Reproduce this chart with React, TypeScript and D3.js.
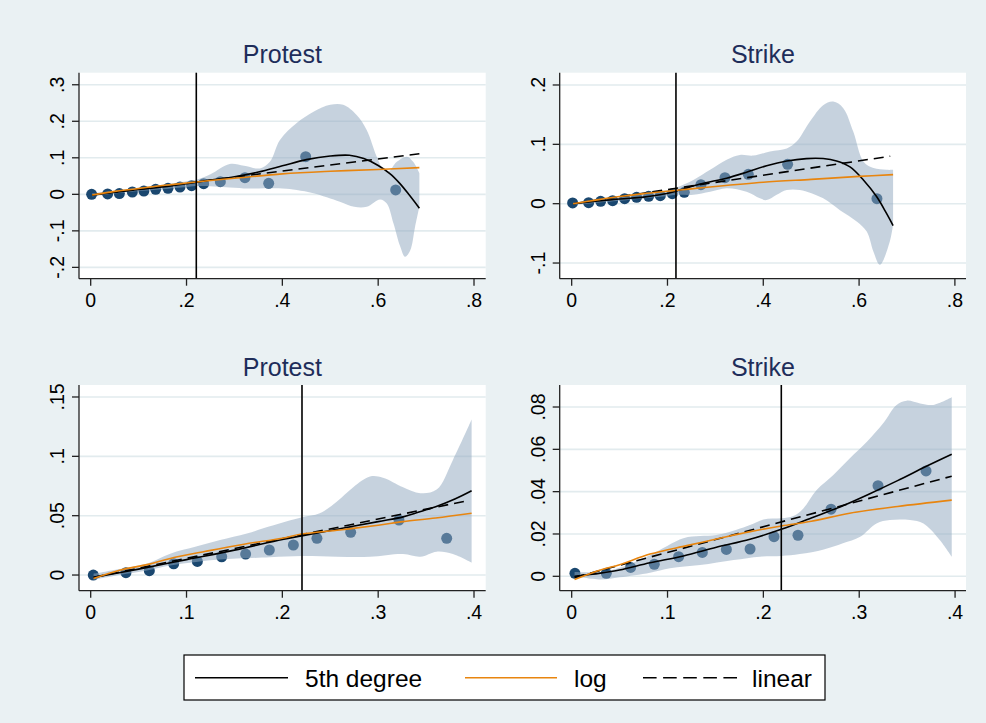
import React from 'react';
import * as d3 from 'd3';

type P = [number, number];

// ---- top row: full range of the share ----
const protestPts: P[] = [
  [0.002, 0.0], [0.0354, 0.001], [0.0598, 0.002], [0.0869, 0.0064], [0.111, 0.0091],
  [0.1356, 0.0137], [0.1613, 0.0164], [0.1864, 0.02], [0.2107, 0.0237], [0.2358, 0.0292],
  [0.2706, 0.0347], [0.322, 0.0457], [0.3715, 0.03], [0.4487, 0.103], [0.6365, 0.0119],
];
const protestPoly5: P[] = [
  [0.003, -0.002], [0.05, 0.006], [0.1, 0.013], [0.15, 0.02], [0.2, 0.029], [0.25, 0.039],
  [0.3, 0.048], [0.35, 0.061], [0.4, 0.078], [0.45, 0.095], [0.5, 0.105], [0.54, 0.107],
  [0.57, 0.098], [0.6, 0.079], [0.625, 0.056], [0.645, 0.03], [0.665, -0.002], [0.686, -0.038],
];
const protestLog: P[] = [
  [0.003, -0.002], [0.05, 0.008], [0.1, 0.016], [0.15, 0.024], [0.2, 0.031], [0.25, 0.038],
  [0.3, 0.044], [0.4, 0.056], [0.5, 0.063], [0.6, 0.068], [0.686, 0.073],
];
const protestLinear: P[] = [[0.003, -0.002], [0.686, 0.111]];
const protestCiUpper: P[] = [
  [0.003, 0.003], [0.05, 0.01], [0.1, 0.018], [0.15, 0.026], [0.2, 0.036], [0.22, 0.04],
  [0.25, 0.055], [0.29, 0.083], [0.32, 0.078], [0.353, 0.071], [0.374, 0.089], [0.395, 0.149],
  [0.43, 0.195], [0.465, 0.226], [0.5, 0.245], [0.527, 0.245], [0.555, 0.217], [0.576, 0.176],
  [0.597, 0.103], [0.611, 0.067], [0.621, 0.062], [0.639, 0.089], [0.66, 0.103], [0.673, 0.089],
  [0.686, 0.058],
];
const protestCiLower: P[] = [
  [0.003, -0.006], [0.05, 0.002], [0.1, 0.009], [0.15, 0.014], [0.2, 0.02], [0.22, 0.023],
  [0.29, 0.019], [0.33, 0.016], [0.4, 0.016], [0.43, 0.012], [0.465, 0.003], [0.52, -0.02],
  [0.55, -0.034], [0.576, -0.034], [0.604, -0.014], [0.618, -0.025], [0.632, -0.08],
  [0.646, -0.143], [0.656, -0.171], [0.667, -0.153], [0.677, -0.089], [0.686, -0.034],
];

const strikePts: P[] = [
  [0.002, 0.0012], [0.0354, 0.0017], [0.0605, 0.004], [0.0855, 0.0051], [0.1106, 0.0085],
  [0.1356, 0.0107], [0.1607, 0.0124], [0.185, 0.0135], [0.21, 0.0169], [0.2351, 0.0192],
  [0.2699, 0.0321], [0.32, 0.0439], [0.3687, 0.0495], [0.4508, 0.0663], [0.6373, 0.0085],
];
const strikePoly5: P[] = [
  [0.003, 0.0], [0.05, 0.004], [0.1, 0.008], [0.15, 0.011], [0.184, 0.015], [0.218, 0.021],
  [0.268, 0.033], [0.3235, 0.043], [0.365, 0.053], [0.407, 0.064], [0.449, 0.072], [0.49, 0.076],
  [0.525, 0.076], [0.553, 0.072], [0.581, 0.062], [0.609, 0.04], [0.6365, 0.012], [0.657, -0.016],
  [0.671, -0.037],
];
const strikeLog: P[] = [
  [0.003, 0.0], [0.05, 0.006], [0.1, 0.012], [0.15, 0.017], [0.2, 0.021], [0.25, 0.025],
  [0.3, 0.029], [0.4, 0.036], [0.5, 0.041], [0.6, 0.046], [0.671, 0.049],
];
const strikeLinear: P[] = [[0.003, 0.0], [0.665, 0.08]];
const strikeCiUpper: P[] = [
  [0.003, 0.002], [0.1, 0.011], [0.2, 0.023], [0.218, 0.027], [0.254, 0.04], [0.289, 0.057],
  [0.3235, 0.074], [0.351, 0.082], [0.379, 0.081], [0.414, 0.088], [0.449, 0.093], [0.47, 0.105],
  [0.497, 0.138], [0.525, 0.166], [0.546, 0.172], [0.567, 0.161], [0.588, 0.121], [0.609, 0.071],
  [0.63, 0.06], [0.657, 0.057], [0.671, 0.057],
];
const strikeCiLower: P[] = [
  [0.003, -0.002], [0.1, 0.005], [0.2, 0.013], [0.218, 0.015], [0.254, 0.015], [0.289, 0.02],
  [0.3235, 0.026], [0.365, 0.02], [0.393, 0.009], [0.407, 0.006], [0.428, 0.015], [0.449, 0.023],
  [0.4765, 0.023], [0.525, 0.009], [0.56, -0.011], [0.595, -0.03], [0.616, -0.047], [0.63, -0.081],
  [0.6435, -0.103], [0.664, -0.064], [0.671, -0.035],
];

// ---- bottom row: share below .4 ----
const protestLowPts: P[] = [
  [0.0027, 0.0], [0.0368, 0.002], [0.0612, 0.0037], [0.0866, 0.0095], [0.1113, 0.0115],
  [0.1367, 0.0154], [0.1617, 0.0177], [0.1864, 0.0211], [0.2115, 0.0253], [0.2361, 0.0309],
  [0.2713, 0.036], [0.3217, 0.0463], [0.3715, 0.0309],
];
const protestLowPoly5: P[] = [
  [0.003, -0.002], [0.05, 0.005], [0.1, 0.013], [0.15, 0.021], [0.2, 0.03], [0.22, 0.033],
  [0.26, 0.039], [0.3, 0.045], [0.326, 0.049], [0.34, 0.0525], [0.36, 0.0575], [0.38, 0.064],
  [0.3975, 0.071],
];
const protestLowLog: P[] = [
  [0.003, -0.003], [0.03, 0.004], [0.06, 0.009], [0.083, 0.014], [0.12, 0.02], [0.16, 0.026],
  [0.2, 0.031], [0.22, 0.0345], [0.26, 0.038], [0.3, 0.042], [0.326, 0.045], [0.36, 0.048],
  [0.3975, 0.052],
];
const protestLowLinear: P[] = [[0.003, -0.002], [0.393, 0.0626]];
const protestLowCiUpper: P[] = [
  [0.003, 0.001], [0.03, 0.005], [0.06, 0.01], [0.083, 0.018], [0.11, 0.024], [0.135, 0.0295],
  [0.163, 0.035], [0.187, 0.041], [0.2205, 0.0486], [0.239, 0.052], [0.257, 0.062], [0.274, 0.074],
  [0.2915, 0.083], [0.305, 0.082], [0.326, 0.074], [0.344, 0.069], [0.361, 0.072], [0.378, 0.097],
  [0.3975, 0.131],
];
const protestLowCiLower: P[] = [
  [0.003, -0.004], [0.03, 0.0], [0.06, 0.004], [0.083, 0.008], [0.11, 0.011], [0.135, 0.013],
  [0.187, 0.015], [0.2205, 0.016], [0.257, 0.0154], [0.2915, 0.0154], [0.326, 0.0177],
  [0.344, 0.0154], [0.361, 0.0197], [0.378, 0.0177], [0.3975, 0.0104],
];

const strikeLowPts: P[] = [
  [0.0034, 0.0014], [0.0361, 0.0014], [0.0615, 0.0042], [0.0862, 0.0057], [0.1116, 0.0093],
  [0.1363, 0.0113], [0.1614, 0.0127], [0.1861, 0.0129], [0.2111, 0.0187], [0.2361, 0.0194],
  [0.2706, 0.0317], [0.3196, 0.0428], [0.3697, 0.0498],
];
const strikeLowPoly5: P[] = [
  [0.003, 0.0], [0.03, 0.0015], [0.05, 0.003], [0.0817, 0.0064], [0.1165, 0.0096], [0.151, 0.0137],
  [0.186, 0.0175], [0.2187, 0.0222], [0.25, 0.0276], [0.28, 0.0328], [0.31, 0.0388],
  [0.34, 0.0452], [0.37, 0.052], [0.3965, 0.0577],
];
const strikeLowLog: P[] = [
  [0.003, -0.0015], [0.03, 0.003], [0.05, 0.0055], [0.0817, 0.0105], [0.12, 0.0145], [0.15, 0.0175],
  [0.185, 0.021], [0.2187, 0.0238], [0.25, 0.026], [0.29, 0.0298], [0.34, 0.033], [0.3965, 0.036],
];
const strikeLowLinear: P[] = [[0.003, -0.0005], [0.3965, 0.0473]];
const strikeLowCiUpper: P[] = [
  [0.003, 0.002], [0.03, 0.002], [0.05, 0.004], [0.0817, 0.01], [0.1165, 0.018], [0.134, 0.019],
  [0.151, 0.0195], [0.172, 0.022], [0.186, 0.0242], [0.2, 0.0269], [0.2187, 0.0274], [0.2313, 0.0285],
  [0.2417, 0.0321], [0.2556, 0.0408], [0.273, 0.0479], [0.29, 0.0557], [0.308, 0.0636],
  [0.325, 0.0723], [0.339, 0.081], [0.3495, 0.083], [0.3635, 0.0817], [0.3773, 0.081], [0.3965, 0.0846],
];
const strikeLowCiLower: P[] = [
  [0.003, 0.0], [0.03, -0.0015], [0.05, -0.0005], [0.0817, 0.0017], [0.1026, 0.0038], [0.134, 0.0053],
  [0.169, 0.0077], [0.1965, 0.0093], [0.2187, 0.0096], [0.238, 0.0105], [0.263, 0.0127],
  [0.283, 0.0156], [0.301, 0.0187], [0.318, 0.025], [0.332, 0.0266], [0.353, 0.0266], [0.367, 0.025],
  [0.384, 0.0172], [0.3965, 0.0093],
];

// cutoff lines
const cutoffs = [0.2204, 0.2177, 0.2205, 0.2187];
const titles = ['Protest', 'Strike', 'Protest', 'Strike'];

// ticks
const xTicksTop = [0, 0.2, 0.4, 0.6, 0.8];
const xLabelsTop = ['0', '.2', '.4', '.6', '.8'];
const xTicksBottom = [0, 0.1, 0.2, 0.3, 0.4];
const xLabelsBottom = ['0', '.1', '.2', '.3', '.4'];
const yTicksProtest = [-0.2, -0.1, 0, 0.1, 0.2, 0.3];
const yLabelsProtest = ['-.2', '-.1', '0', '.1', '.2', '.3'];
const yTicksStrike = [-0.1, 0, 0.1, 0.2];
const yLabelsStrike = ['-.1', '0', '.1', '.2'];
const yTicksProtestLow = [0, 0.05, 0.1, 0.15];
const yLabelsProtestLow = ['0', '.05', '.1', '.15'];
const yTicksStrikeLow = [0, 0.02, 0.04, 0.06, 0.08];
const yLabelsStrikeLow = ['0', '.02', '.04', '.06', '.08'];

const legendLabels = ['5th degree', 'log', 'linear'];

const FONT = "'Liberation Sans', Arial, Helvetica, sans-serif";
const BG = '#eaf1f3';
const GRID = '#e2ebee';
const NAVY = '#1a476f';
const ORANGE = '#e8850f';
const BAND = 'rgba(145,168,192,0.52)';
const TITLE = '#1e2d5a';

const panels = [
  {
    pts: protestPts, poly: protestPoly5, log: protestLog, lin: protestLinear,
    up: protestCiUpper, lo: protestCiLower,
    xTicks: xTicksTop, xLabels: xLabelsTop, yTicks: yTicksProtest, yLabels: yLabelsProtest,
    xDomain: [-0.0244, 0.8244], yDomain: [-0.231, 0.333],
    left: 79, right: 485.7, top: 72.7, bottom: 278.7,
  },
  {
    pts: strikePts, poly: strikePoly5, log: strikeLog, lin: strikeLinear,
    up: strikeCiUpper, lo: strikeCiLower,
    xTicks: xTicksTop, xLabels: xLabelsTop, yTicks: yTicksStrike, yLabels: yLabelsStrike,
    xDomain: [-0.025, 0.8232], yDomain: [-0.1264, 0.2207],
    left: 559.7, right: 966, top: 72.7, bottom: 278.7,
  },
  {
    pts: protestLowPts, poly: protestLowPoly5, log: protestLowLog, lin: protestLowLinear,
    up: protestLowCiUpper, lo: protestLowCiLower,
    xTicks: xTicksBottom, xLabels: xLabelsBottom, yTicks: yTicksProtestLow, yLabels: yLabelsProtestLow,
    xDomain: [-0.0122, 0.4122], yDomain: [-0.0132, 0.1601],
    left: 79, right: 485.7, top: 385, bottom: 590.7,
  },
  {
    pts: strikeLowPts, poly: strikeLowPoly5, log: strikeLowLog, lin: strikeLowLinear,
    up: strikeLowCiUpper, lo: strikeLowCiLower,
    xTicks: xTicksBottom, xLabels: xLabelsBottom, yTicks: yTicksStrikeLow, yLabels: yLabelsStrikeLow,
    xDomain: [-0.0125, 0.4114], yDomain: [-0.0068, 0.0904],
    left: 559.7, right: 966, top: 385, bottom: 590.7,
  },
];

function Panel({ cfg, i }: { cfg: any; i: number }) {
  const x = d3.scaleLinear().domain(cfg.xDomain).range([cfg.left, cfg.right]);
  const y = d3.scaleLinear().domain(cfg.yDomain).range([cfg.bottom, cfg.top]);
  const smooth = d3.line<P>().x(d => x(d[0])).y(d => y(d[1])).curve(d3.curveCatmullRom.alpha(0.5));
  const straight = d3.line<P>().x(d => x(d[0])).y(d => y(d[1]));

  // band = upper edge left to right, then lower edge back
  const upPath = smooth(cfg.up) || '';
  const loPath = smooth([...cfg.lo].reverse()) || '';
  const bandPath = upPath + 'L' + loPath.slice(1) + 'Z';

  const cx = (cfg.left + cfg.right) / 2;
  return (
    <g>
      <rect x={cfg.left} y={cfg.top} width={cfg.right - cfg.left} height={cfg.bottom - cfg.top} fill="#fff" />
      {cfg.yTicks.map((t: number, k: number) => (
        <line key={'g' + k} x1={cfg.left} x2={cfg.right} y1={y(t)} y2={y(t)} stroke={GRID} strokeWidth={1.6} />
      ))}
      {cfg.pts.map((d: P, k: number) => (
        <circle key={'p' + k} cx={x(d[0])} cy={y(d[1])} r={5.5} fill={NAVY} />
      ))}
      <path d={bandPath} fill={BAND} stroke="none" />
      <path d={smooth(cfg.poly) || ''} fill="none" stroke="#000" strokeWidth={1.6} />
      <path d={straight(cfg.lin) || ''} fill="none" stroke="#000" strokeWidth={1.6} strokeDasharray="10,6" />
      <path d={smooth(cfg.log) || ''} fill="none" stroke={ORANGE} strokeWidth={1.6} />
      <line x1={x(cutoffs[i])} x2={x(cutoffs[i])} y1={cfg.top} y2={cfg.bottom} stroke="#000" strokeWidth={1.6} />

      {/* axes */}
      <line x1={cfg.left} x2={cfg.left} y1={cfg.top} y2={cfg.bottom} stroke="#222" strokeWidth={1.3} />
      <line x1={cfg.left} x2={cfg.right} y1={cfg.bottom} y2={cfg.bottom} stroke="#222" strokeWidth={1.3} />
      {cfg.xTicks.map((t: number, k: number) => (
        <g key={'xt' + k}>
          <line x1={x(t)} x2={x(t)} y1={cfg.bottom} y2={cfg.bottom + 7} stroke="#222" strokeWidth={1.3} />
          <text x={x(t)} y={cfg.bottom + 28.6} textAnchor="middle" fontFamily={FONT} fontSize={19.5} fill="#000">
            {cfg.xLabels[k]}
          </text>
        </g>
      ))}
      {cfg.yTicks.map((t: number, k: number) => (
        <g key={'yt' + k}>
          <line x1={cfg.left - 7} x2={cfg.left} y1={y(t)} y2={y(t)} stroke="#222" strokeWidth={1.3} />
          <text transform={`translate(${cfg.left - 15},${y(t)}) rotate(-90)`} textAnchor="middle"
            fontFamily={FONT} fontSize={19.5} fill="#000">
            {cfg.yLabels[k]}
          </text>
        </g>
      ))}
      <text x={cx} y={cfg.top - 9.4} textAnchor="middle" fontFamily={FONT} fontSize={25} fill={TITLE}>
        {titles[i]}
      </text>
    </g>
  );
}

export default function App() {
  const W = 986, H = 723;
  const ly = 677.7;
  return (
    <svg width={W} height={H} style={{ position: 'absolute', left: 0, top: 0, display: 'block' }}>
      <rect x={0} y={0} width={W} height={H} fill={BG} />
      {panels.map((p, i) => <Panel key={i} cfg={p} i={i} />)}

      {/* legend */}
      <rect x={184} y={655} width={641} height={45} fill="#fff" stroke="#000" strokeWidth={1.2} />
      <line x1={195} x2={288} y1={ly} y2={ly} stroke="#000" strokeWidth={1.6} />
      <text x={305} y={686.7} fontFamily={FONT} fontSize={24.5} fill="#000">{legendLabels[0]}</text>
      <line x1={465} x2={557} y1={ly} y2={ly} stroke={ORANGE} strokeWidth={1.6} />
      <text x={574} y={686.7} fontFamily={FONT} fontSize={24.5} fill="#000">{legendLabels[1]}</text>
      <line x1={643} x2={737} y1={ly} y2={ly} stroke="#000" strokeWidth={1.6} strokeDasharray="13.6,6.5" />
      <text x={752} y={686.7} fontFamily={FONT} fontSize={24.5} fill="#000">{legendLabels[2]}</text>
    </svg>
  );
}
